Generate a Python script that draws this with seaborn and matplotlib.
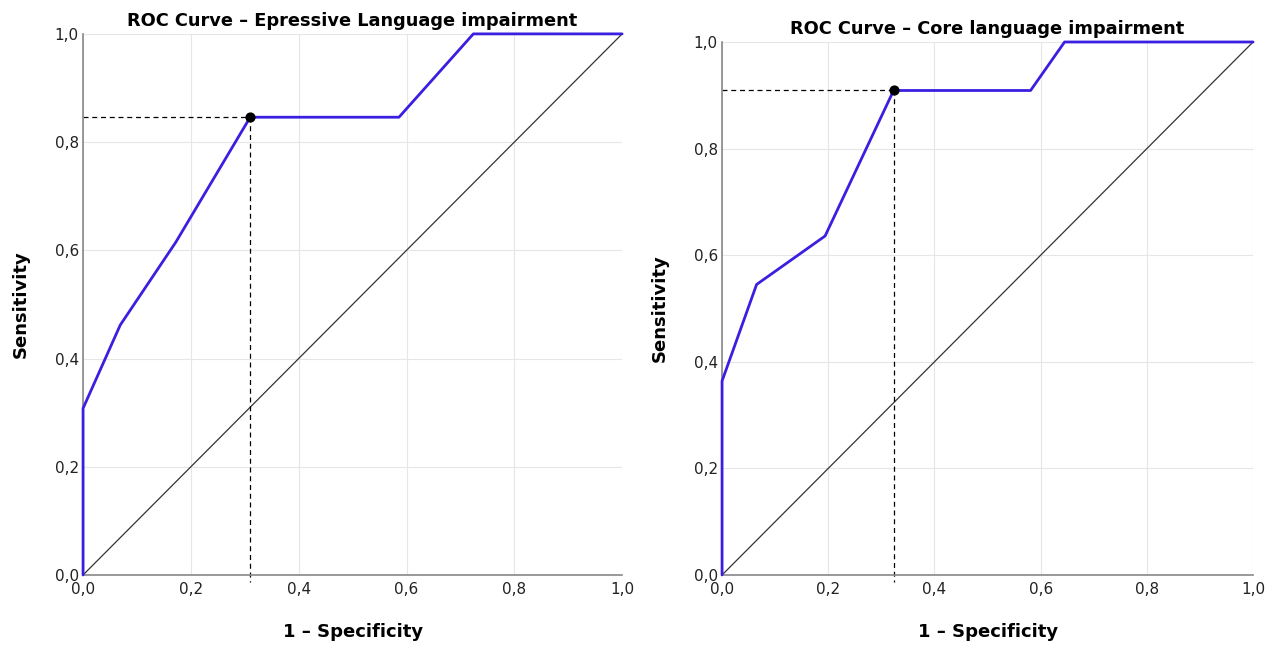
import matplotlib
matplotlib.use('Agg')
import matplotlib.pyplot as plt
import seaborn as sns
import pandas as pd
from matplotlib.ticker import FuncFormatter

# ROC points (1 - specificity, sensitivity)
fpr_expr = [0.0, 0.0, 0.069, 0.172, 0.310, 0.586, 0.724, 1.0]
tpr_expr = [0.0, 0.308, 0.462, 0.615, 0.846, 0.846, 1.0, 1.0]
cut_expr = (0.310, 0.846)

fpr_core = [0.0, 0.0, 0.065, 0.194, 0.323, 0.581, 0.645, 1.0]
tpr_core = [0.0, 0.364, 0.545, 0.636, 0.909, 0.909, 1.0, 1.0]
cut_core = (0.323, 0.909)

titles = ['ROC Curve – Epressive Language impairment', 'ROC Curve – Core language impairment']
ticks = [0.0, 0.2, 0.4, 0.6, 0.8, 1.0]

sns.set_theme(style='whitegrid')
plt.rcParams['font.family'] = ['DejaVu Sans']

fig = plt.figure(figsize=(12.78, 6.48), dpi=100)
ax1 = fig.add_axes([0.065, 0.1127, 0.4218, 0.835])
ax2 = fig.add_axes([0.565, 0.1127, 0.4155, 0.8225])

comma = FuncFormatter(lambda v, p: f'{v:.1f}'.replace('.', ','))

for ax, fpr, tpr, cut, title in [(ax1, fpr_expr, tpr_expr, cut_expr, titles[0]),
                                  (ax2, fpr_core, tpr_core, cut_core, titles[1])]:
    df = pd.DataFrame({'fpr': fpr, 'tpr': tpr})
    # reference diagonal
    sns.lineplot(x=[0, 1], y=[0, 1], ax=ax, color='#333333', linewidth=0.9)
    # ROC curve
    sns.lineplot(data=df, x='fpr', y='tpr', ax=ax, sort=False, estimator=None,
                 color='#3a1fe0', linewidth=2.0, clip_on=False, zorder=3)
    # cutoff point and guide lines
    ax.plot([0, cut[0]], [cut[1], cut[1]], color='black', linestyle='--', linewidth=0.9, dashes=(4, 3))
    ax.plot([cut[0], cut[0]], [cut[1], -0.013], color='black', linestyle='--', linewidth=0.9,
            dashes=(4, 3), clip_on=False)
    ax.scatter([cut[0]], [cut[1]], color='black', s=40, zorder=5, clip_on=False)

    ax.set_xlim(0, 1)
    ax.set_ylim(0, 1)
    ax.set_xticks(ticks)
    ax.set_yticks(ticks)
    ax.xaxis.set_major_formatter(comma)
    ax.yaxis.set_major_formatter(comma)
    ax.tick_params(labelsize=11, colors='#222222', length=0)
    ax.tick_params(axis='x', pad=5)
    ax.tick_params(axis='y', pad=3)
    ax.grid(True, color='#e6e6e6', linewidth=0.8)
    for s in ['top', 'right']:
        ax.spines[s].set_visible(False)
    for s in ['left', 'bottom']:
        ax.spines[s].set_color('#888888')
        ax.spines[s].set_linewidth(1.2)
    ax.set_title(title, fontsize=12.8, fontweight='bold', color='black', pad=6)
    ax.set_xlabel('1 – Specificity', fontsize=13, fontweight='bold', color='black', labelpad=19)
    ax.set_ylabel('Sensitivity', fontsize=13, fontweight='bold', color='black', labelpad=18)

fig.savefig('out.png', dpi=100)
